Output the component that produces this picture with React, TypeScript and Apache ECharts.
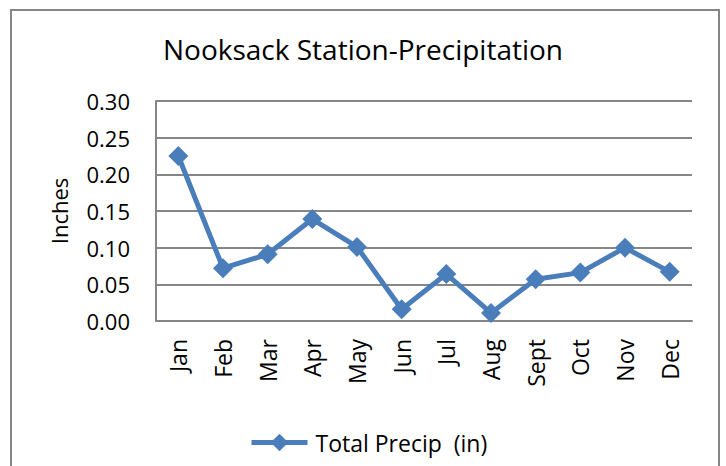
import React, { useEffect, useRef } from "react";
import * as echarts from "echarts";

const months = ["Jan", "Feb", "Mar", "Apr", "May", "Jun", "Jul", "Aug", "Sept", "Oct", "Nov", "Dec"];
const precip = [0.225, 0.072, 0.091, 0.139, 0.101, 0.016, 0.064, 0.011, 0.057, 0.066, 0.1, 0.067];
const seriesName = "Total Precip  (in)";
const titleText = "Nooksack Station-Precipitation";
const yAxisName = "Inches";

const FONT = "'Open Sans', sans-serif";
const GRAY = "#868686";
const BLUE = "#4A7EBB";

export default function App() {
  const ref = useRef<HTMLDivElement>(null);
  useEffect(() => {
    if (!ref.current) return;
    const chart = echarts.init(ref.current, undefined, { renderer: "svg" });
    chart.setOption({
      animation: false,
      backgroundColor: "#ffffff",
      textStyle: { fontFamily: FONT, color: "#000" },
      title: {
        text: titleText,
        left: "center",
        top: 30,
        textStyle: { fontFamily: FONT, fontSize: 28, fontWeight: "normal", color: "#000" },
      },
      graphic: [
        {
          type: "rect",
          shape: { x: 11, y: 10, width: 708, height: 470 },
          style: { fill: "none", stroke: GRAY, lineWidth: 2 },
          silent: true,
        },
      ],
      grid: { left: 156, right: 34, top: 101, bottom: 145, containLabel: false },
      legend: {
        left: 249,
        top: 431,
        padding: 0,
        itemWidth: 56,
        itemHeight: 22,
        lineStyle: { width: 5 },
        textStyle: { fontFamily: FONT, fontSize: 23, color: "#000", padding: [0, 0, 0, 3] },
        data: [seriesName],
      },
      xAxis: {
        type: "category",
        data: months,
        boundaryGap: true,
        axisLine: { show: true, lineStyle: { color: GRAY, width: 2 } },
        axisTick: { show: false },
        axisLabel: { rotate: 90, margin: 18, fontFamily: FONT, fontSize: 23, color: "#000", interval: 0 },
        splitLine: { show: false },
      },
      yAxis: {
        type: "value",
        min: 0,
        max: 0.3,
        interval: 0.05,
        name: yAxisName,
        nameLocation: "middle",
        nameRotate: 90,
        nameGap: 86,
        nameTextStyle: { fontFamily: FONT, fontSize: 22, color: "#000" },
        axisLine: { show: true, lineStyle: { color: GRAY, width: 2 } },
        axisTick: { show: false },
        axisLabel: {
          margin: 26,
          fontFamily: FONT,
          fontSize: 22,
          color: "#000",
          formatter: (v: number) => v.toFixed(2),
        },
        splitLine: { show: true, lineStyle: { color: GRAY, width: 2 } },
      },
      series: [
        {
          name: seriesName,
          type: "line",
          data: precip,
          symbol: "diamond",
          symbolSize: 20,
          lineStyle: { color: BLUE, width: 5 },
          itemStyle: { color: BLUE },
        },
      ],
    });
    return () => chart.dispose();
  }, []);
  return <div ref={ref} style={{ position: "absolute", left: 0, top: 0, width: 726, height: 466 }} />;
}
